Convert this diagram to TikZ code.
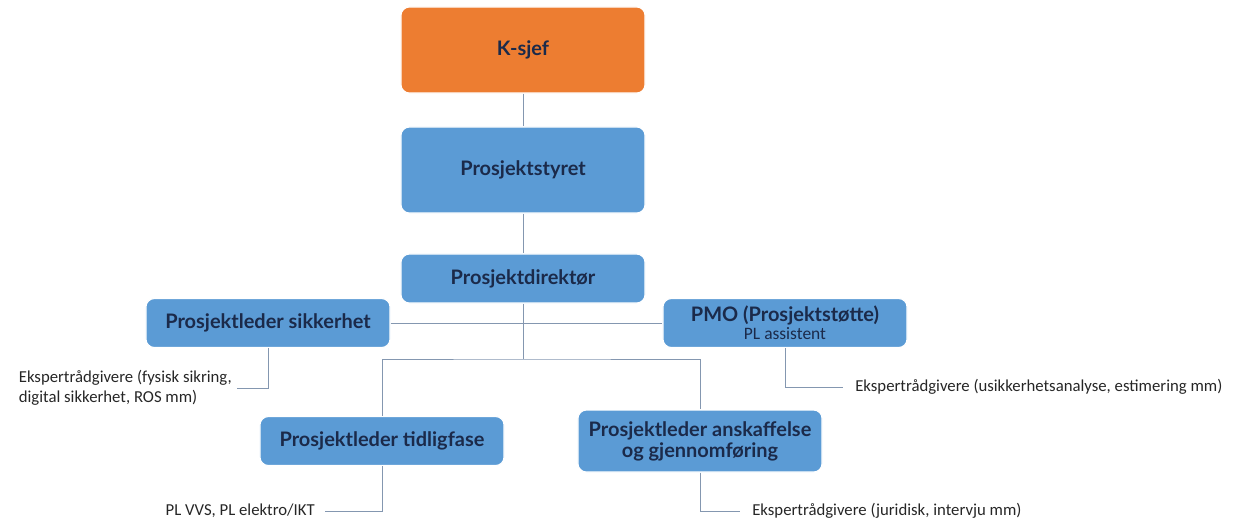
\documentclass[tikz,border=0pt]{standalone}
\usepackage{fontspec}
\setmainfont{Carlito}
\newfontfamily\boxfont{Lato}
\usetikzlibrary{positioning,calc}
\definecolor{boxblue}{HTML}{5B9BD5}
\definecolor{boxorange}{HTML}{ED7D31}
\definecolor{boxtext}{HTML}{1B2A4A}
\definecolor{linecol}{HTML}{8497B0}
\tikzset{orgbox/.style={rounded corners=6pt, draw=white, line width=0.8pt, fill=boxblue, text=boxtext, font=\boxfont\bfseries\fontsize{14.2}{17}\selectfont, align=center, minimum width=6.1cm, minimum height=1.225cm, inner sep=2pt}}
\tikzset{conn/.style={draw=linecol, line width=0.6pt}}
\tikzset{note/.style={font=\fontsize{11.9}{14.5}\selectfont, text=black!85, inner ysep=0pt, align=left}}

\begin{document}
\begin{tikzpicture}[x=0.025cm, y=-0.025cm]
			\useasboundingbox (0,0) rectangle (1233,520);
			\node[orgbox, fill=boxorange, minimum height=2.15cm] (ksjef) at (523,50) {K-sjef};
			\node[orgbox, minimum height=2.15cm] (styret) at (523,170) {Prosjektstyret};
			\node[orgbox] (direktor) at (523,278.5) {Prosjektdirektør};
			\node[orgbox] (sikkerhet) at (268,323) {Prosjektleder sikkerhet};
			\node[orgbox] (pmo) at (785,323) {PMO (Prosjektstøtte)\\[-4pt]{\rmfamily\mdseries\fontsize{12.4}{14}\selectfont PL assistent}};
			\node[orgbox] (tidlig) at (382,441) {Prosjektleder tidligfase};
			\node[orgbox, minimum height=1.55cm] (anskaff) at (700,441) {Prosjektleder anskaffelse\\[-2pt]og gjennomføring};
			
			\coordinate (fork) at (523,359);
			
			% notes
			\node[note, anchor=east, inner xsep=0.125cm] (ekspSik) at (237,388) {Ekspertrådgivere (fysisk sikring,\\digital sikkerhet, ROS mm)};
			\node[note, anchor=west, inner xsep=0.3cm] (ekspPmo) at (843,387) {Ekspertrådgivere (usikkerhetsanalyse, estimering mm)};
			\node[note, anchor=east, inner xsep=0.25cm] (plVvs) at (325,511) {PL VVS, PL elektro/IKT};
			\node[note, anchor=west, inner xsep=0.3cm] (ekspJur) at (740,511) {Ekspertrådgivere (juridisk, intervju mm)};
			
			\draw[conn] (ksjef) -- (styret);
			\draw[conn] (styret) -- (direktor);
			\draw[conn] (direktor.south) -- (fork);
			\draw[conn] (sikkerhet) -- (pmo);
			\draw[conn] (tidlig.north) |- (fork) -| (anskaff.north);
			
			\draw[conn] (sikkerhet.south) |- (ekspSik.east);
			\draw[conn] (pmo.south) |- (ekspPmo.west);
			\draw[conn] (tidlig.south) |- (plVvs.east);
			\draw[conn] (anskaff.south) |- (ekspJur.west);
		\end{tikzpicture}
\end{document}
